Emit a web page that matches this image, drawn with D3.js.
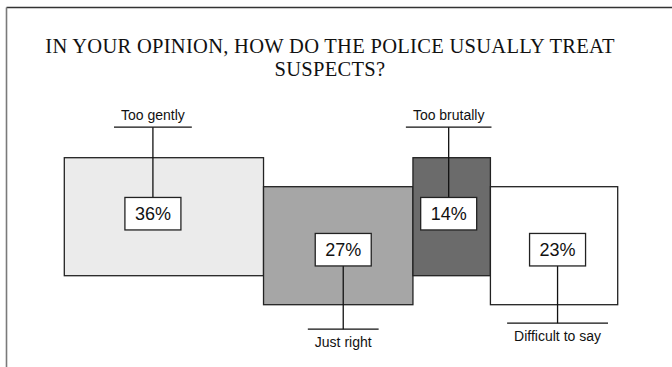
<!DOCTYPE html>
<html>
<head>
<meta charset="utf-8">
<script src="https://cdn.jsdelivr.net/npm/d3@7"></script>
<style>
  html, body { margin: 0; padding: 0; background: #fff; }
  svg { display: block; }
</style>
</head>
<body>
<svg id="chart" width="672" height="367"></svg>
<script>
// Survey answers: share of respondents per answer
const categories = ["Too gently", "Just right", "Too brutally", "Difficult to say"];
const values = [36, 27, 14, 23];
const titleLines = ["IN YOUR OPINION, HOW DO THE POLICE USUALLY TREAT", "SUSPECTS?"];

// Presentation
const fills = ["#ebebeb", "#a6a6a6", "#6b6b6b", "#ffffff"];
const raised = [true, false, true, false];        // bar sits on the upper row
const leaderNudge = [-11, 5, -3, 3.5];             // horizontal shift of each callout
const bottomGap = [0, 24.5, 0, 18.5];              // underline distance below bar (bottom callouts)

const W = 672, H = 367;
const svg = d3.select("#chart");

// Frame
svg.append("line").attr("x1", 6.5).attr("x2", W).attr("y1", 7.5).attr("y2", 7.5)
  .attr("stroke", "#333").attr("stroke-width", 1.3);
svg.append("line").attr("x1", 6.5).attr("x2", 6.5).attr("y1", 7.5).attr("y2", H)
  .attr("stroke", "#7a7a7a").attr("stroke-width", 1.6);

// Title
svg.append("g").selectAll("text").data(titleLines).join("text")
  .attr("x", 330).attr("y", (d, i) => 52.7 + i * 23.4)
  .attr("text-anchor", "middle")
  .attr("font-family", "'Liberation Serif', 'Times New Roman', serif")
  .attr("font-size", 20.5).attr("letter-spacing", 0.3).attr("fill", "#111")
  .text(d => d);

// Horizontal scale: cumulative percentage -> pixels
const total = d3.sum(values);
const x = d3.scaleLinear().domain([0, total]).range([64.3, 617.7]);
const starts = values.map((v, i) => d3.sum(values.slice(0, i)));

// Vertical rows
const row = d3.scaleOrdinal().domain([true, false]).range([157.7, 186.7]);
const barH = 118;

const data = categories.map((c, i) => ({
  cat: c, v: values[i], x0: x(starts[i]), x1: x(starts[i] + values[i]),
  y0: row(raised[i]), fill: fills[i], up: raised[i], i
}));

const bars = svg.append("g");
bars.selectAll("rect").data(data).join("rect")
  .attr("x", d => d.x0).attr("y", d => d.y0)
  .attr("width", d => d.x1 - d.x0).attr("height", barH)
  .attr("fill", d => d.fill).attr("stroke", "#222").attr("stroke-width", 1.3);

const labelFont = "'Liberation Sans', Arial, sans-serif";

data.forEach(d => {
  const g = svg.append("g");
  const cx = (d.x0 + d.x1) / 2 + leaderNudge[d.i];
  const boxW = 56, boxH = 32.5;
  const boxCy = d.y0 + (d.up ? 56 : 63);
  const boxTop = boxCy - boxH / 2, boxBot = boxCy + boxH / 2;

  let lineY, textY;
  if (d.up) {
    lineY = d.y0 - 30.5;
    textY = lineY - 7.5;
  } else {
    lineY = d.y0 + barH + bottomGap[d.i];
    textY = lineY + 17.5;
  }

  // Leader line
  g.append("line").attr("x1", cx).attr("x2", cx)
    .attr("y1", d.up ? lineY : boxBot).attr("y2", d.up ? boxTop : lineY)
    .attr("stroke", "#111").attr("stroke-width", 1.3);

  // Category name
  const t = g.append("text").attr("x", cx).attr("y", textY)
    .attr("text-anchor", "middle").attr("font-family", labelFont)
    .attr("font-size", 14).attr("fill", "#111").text(d.cat);
  const tw = t.node().getComputedTextLength();

  // Underline
  g.append("line").attr("x1", cx - tw / 2 - 7).attr("x2", cx + tw / 2 + 7)
    .attr("y1", lineY).attr("y2", lineY)
    .attr("stroke", "#111").attr("stroke-width", 1.3);

  // Value box
  g.append("rect").attr("x", cx - boxW / 2).attr("y", boxTop)
    .attr("width", boxW).attr("height", boxH)
    .attr("fill", "#fff").attr("stroke", "#222").attr("stroke-width", 1.3);
  g.append("text").attr("x", cx).attr("y", boxCy + 6.5)
    .attr("text-anchor", "middle").attr("font-family", labelFont)
    .attr("font-size", 18).attr("fill", "#111").text(d.v + "%");
});
</script>
</body>
</html>
